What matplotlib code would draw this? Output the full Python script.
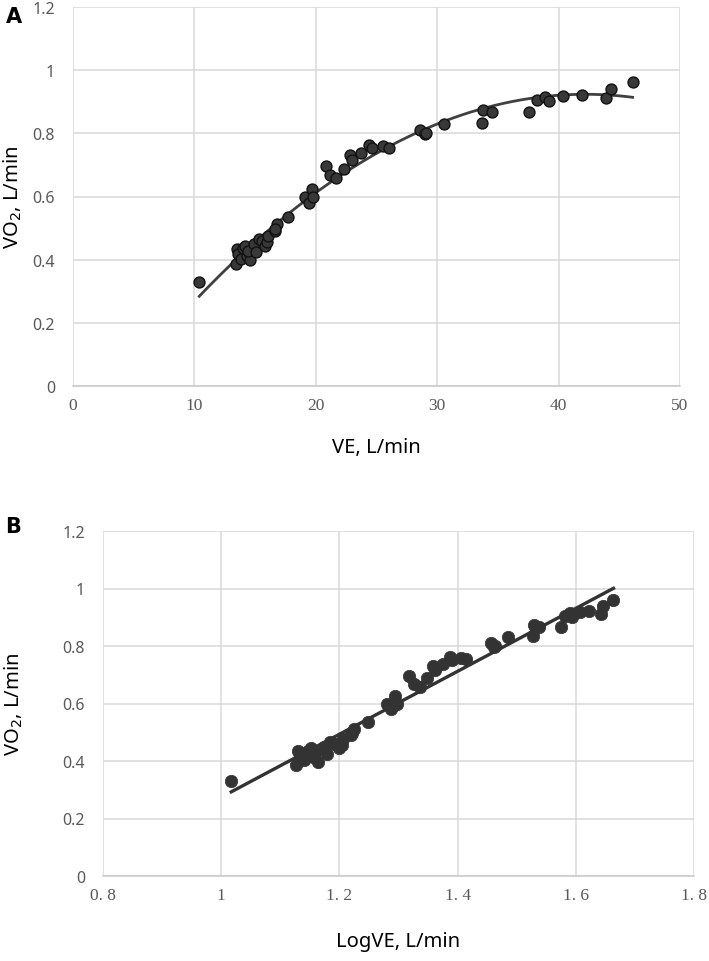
import numpy as np
import matplotlib
matplotlib.use("Agg")
import matplotlib.pyplot as plt

# ---- data ----
ve = [10.4, 13.4, 13.5, 13.6, 13.8, 14.0, 14.2, 14.3, 14.6, 14.4, 14.9, 15.1, 15.3,
      15.6, 15.8, 16.0, 16.1, 16.6, 16.8, 16.64, 17.7, 19.1, 19.4, 19.7, 19.8, 20.8,
      21.2, 21.7, 22.3, 22.8, 22.96, 23.7, 24.4, 24.6, 25.5, 26.0, 28.6, 29.0, 29.1,
      30.6, 33.8, 33.7, 34.5, 37.55, 38.2, 38.9, 39.2, 40.4, 41.9, 43.9, 44.3, 46.1]
vo2 = [0.329, 0.385, 0.434, 0.418, 0.403, 0.436, 0.444, 0.413, 0.398, 0.428, 0.450,
       0.424, 0.465, 0.458, 0.444, 0.455, 0.476, 0.490, 0.513, 0.496, 0.535, 0.600,
       0.581, 0.625, 0.597, 0.697, 0.668, 0.657, 0.688, 0.731, 0.717, 0.739, 0.762,
       0.752, 0.760, 0.755, 0.810, 0.797, 0.800, 0.830, 0.874, 0.834, 0.866, 0.866,
       0.905, 0.916, 0.902, 0.919, 0.922, 0.912, 0.940, 0.961]

yticks = [0, 0.2, 0.4, 0.6, 0.8, 1.0, 1.2]
ytick_labels = ["0", "0.2", "0.4", "0.6", "0.8", "1", "1.2"]
xticks_a = [0, 10, 20, 30, 40, 50]
xtick_labels_a = ["0", "10", "20", "30", "40", "50"]
xticks_b = [0.8, 1.0, 1.2, 1.4, 1.6, 1.8]
xtick_labels_b = ["0. 8", "1", "1. 2", "1. 4", "1. 6", "1. 8"]

ve = np.array(ve)
vo2 = np.array(vo2)
logve = np.log10(ve)

W, H = 709, 962
fig = plt.figure(figsize=(W / 100, H / 100), dpi=100)

sans = "Noto Sans"
serif = "Liberation Serif"
grid_c = "#d9d9d9"
tick_c = "#595959"
line_c = "#404040"


def style(ax, xticks, xlabels, xlim):
    ax.set_xlim(*xlim)
    ax.set_ylim(0, 1.2)
    ax.set_xticks(xticks)
    ax.set_xticklabels(xlabels, fontfamily=serif, fontsize=12.5, color=tick_c)
    ax.set_yticks(yticks)
    ax.set_yticklabels(ytick_labels, fontfamily=sans, fontsize=11.5, color=tick_c)
    ax.tick_params(axis="x", length=0, pad=8)
    ax.tick_params(axis="y", length=0, pad=13)
    ax.grid(True, color=grid_c, linewidth=1.1)
    ax.set_axisbelow(True)
    for s in ax.spines.values():
        s.set_visible(False)
    ax.spines["bottom"].set_visible(True)
    ax.spines["bottom"].set_color("#c8c8c8")
    ax.spines["bottom"].set_linewidth(1.1)


# ---- Panel A ----
axA = fig.add_axes([73 / W, 1 - 387 / H, (680 - 73) / W, (387 - 8) / H])
style(axA, xticks_a, xtick_labels_a, (0, 50))
cA = np.polyfit(ve, vo2, 2)
xa = np.linspace(ve.min(), ve.max(), 200)
axA.plot(xa, np.polyval(cA, xa), color=line_c, lw=2.0, zorder=2)
axA.scatter(ve, vo2, s=62, facecolor="#383838", edgecolor="#111111", linewidths=1.0, zorder=3)
axA.set_xlabel("VE, L/min", fontfamily=sans, fontsize=14.5, labelpad=17)
axA.set_ylabel("VO$_2$, L/min", fontfamily=sans, fontsize=14.5, labelpad=6)
fig.text(6 / W, 1 - 17 / H, "A", fontfamily="DejaVu Sans", fontweight="bold", fontsize=15, va="center")

# ---- Panel B ----
axB = fig.add_axes([103 / W, 1 - 877 / H, (694 - 103) / W, (877 - 532) / H])
style(axB, xticks_b, xtick_labels_b, (0.8, 1.8))
cB = np.polyfit(logve, vo2, 1)
xb = np.linspace(logve.min(), logve.max(), 50)
axB.plot(xb, np.polyval(cB, xb), color="#333333", lw=2.4, zorder=2)
axB.scatter(logve, vo2, s=80, facecolor="#333333", edgecolor="#333333", linewidths=0.5, zorder=3)
axB.set_xlabel("LogVE, L/min", fontfamily=sans, fontsize=14.5, labelpad=20)
axB.set_ylabel("VO$_2$, L/min", fontfamily=sans, fontsize=14.5, labelpad=27)
fig.text(5 / W, 1 - 527 / H, "B", fontfamily="DejaVu Sans", fontweight="bold", fontsize=15, va="center")

fig.savefig("out.png", dpi=100)
